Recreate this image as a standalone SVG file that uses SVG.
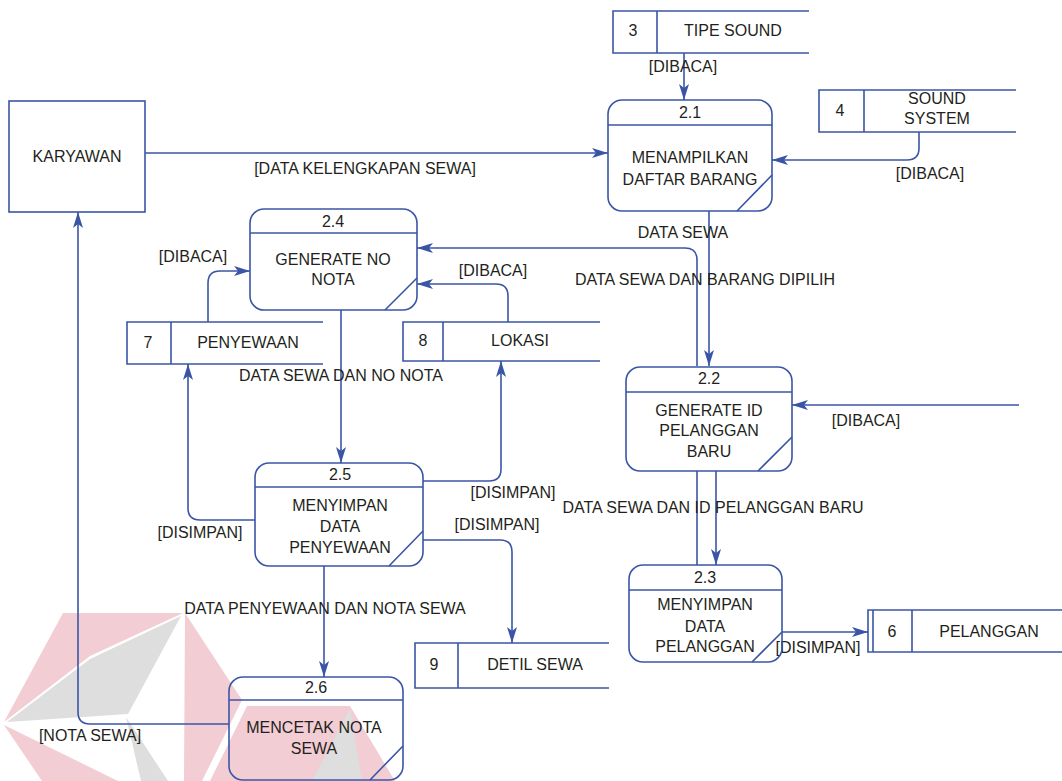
<svg xmlns="http://www.w3.org/2000/svg" width="1062" height="781" viewBox="0 0 1062 781">
<style>
.ln{fill:none;stroke:#3b55a6;stroke-width:1.6}
.bx{fill:#fff;stroke:#3b55a6;stroke-width:1.6}
.pr{fill:none;stroke:#3b55a6;stroke-width:1.6}
text{font-family:"Liberation Sans",Arial,sans-serif;font-size:16px;fill:#231f20;text-anchor:middle}
.wp{fill:#f2cdd3}
.wg{fill:#dedede}
</style>
<defs>
<marker id="ar" markerUnits="userSpaceOnUse" markerWidth="16" markerHeight="10" refX="16" refY="5" orient="auto">
<path d="M0,0 L16,5 L0,10 L4,5 z" fill="#3b55a6"/>
</marker>
</defs>
<rect width="1062" height="781" fill="#fff"/>
<g id="watermark">
<polygon class="wp" points="63,613 183,613 90,656 4,722"/>
<polygon class="wg" points="7,722 90,659 181,616 128,714"/>
<polygon class="wp" points="4,725 118,781 42,781"/>
<polygon class="wg" points="126,717 141,781 168,781"/>
<polygon class="wp" points="185,613 242,700 202,781 184,781"/>
<polygon class="wp" points="247,706 350,706 395,781 210,781"/>
<polygon class="wg" points="350,708 312,781 362,781"/>
</g>
<g id="connectors">
<path class="ln" d="M145,153 H608" marker-end="url(#ar)"/>
<path class="ln" d="M684,53 V100" marker-end="url(#ar)"/>
<path class="ln" d="M919,132 V148 Q919,160 907,160 H772" marker-end="url(#ar)"/>
<path class="ln" d="M709,211 V366" marker-end="url(#ar)"/>
<path class="ln" d="M697,366 V260 Q697,248 685,248 H417" marker-end="url(#ar)"/>
<path class="ln" d="M208,322 V283 Q208,271 220,271 H250" marker-end="url(#ar)"/>
<path class="ln" d="M508,322 V296 Q508,284 496,284 H417" marker-end="url(#ar)"/>
<path class="ln" d="M341,310 V463" marker-end="url(#ar)"/>
<path class="ln" d="M255,520 H200 Q188,520 188,508 V364" marker-end="url(#ar)"/>
<path class="ln" d="M423,481 H489 Q501,481 501,469 V361" marker-end="url(#ar)"/>
<path class="ln" d="M423,540 H500 Q512,540 512,552 V643" marker-end="url(#ar)"/>
<path class="ln" d="M324,566 V677" marker-end="url(#ar)"/>
<path class="ln" d="M229,724 H90 Q78,724 78,712 V212" marker-end="url(#ar)"/>
<path class="ln" d="M1019,405 H792" marker-end="url(#ar)"/>
<path class="ln" d="M716,471 V565" marker-end="url(#ar)"/>
<path class="ln" d="M697,565 V471"/>
<path class="ln" d="M782,632 H868" marker-end="url(#ar)"/>
<text x="365" y="174">[DATA KELENGKAPAN SEWA]</text>
<text x="683" y="72">[DIBACA]</text>
<text x="930" y="179">[DIBACA]</text>
<text x="683" y="238">DATA SEWA</text>
<text x="705" y="285">DATA SEWA DAN BARANG DIPILIH</text>
<text x="193" y="262">[DIBACA]</text>
<text x="493" y="276">[DIBACA]</text>
<text x="341" y="381">DATA SEWA DAN NO NOTA</text>
<text x="200" y="538">[DISIMPAN]</text>
<text x="513" y="498">[DISIMPAN]</text>
<text x="497" y="530">[DISIMPAN]</text>
<text x="325" y="614">DATA PENYEWAAN DAN NOTA SEWA</text>
<text x="90" y="741">[NOTA SEWA]</text>
<text x="866" y="426">[DIBACA]</text>
<text x="713" y="513">DATA SEWA DAN ID PELANGGAN BARU</text>
<text x="818" y="653">[DISIMPAN]</text>
</g>
<g id="karyawan">
<rect class="bx" x="9" y="101" width="136" height="111"/>
<text x="77" y="162">KARYAWAN</text>
</g>
<g id="p2_1">
<rect class="pr" x="608" y="100" width="164" height="111" rx="14"/>
<path class="ln" d="M608,125 H772 M772,175 L737,211"/>
<text x="690" y="118">2.1</text>
<text x="690" y="163">MENAMPILKAN</text>
<text x="690" y="185">DAFTAR BARANG</text>
</g>
<g id="p2_4">
<rect class="pr" x="250" y="209" width="167" height="101" rx="14"/>
<path class="ln" d="M250,233 H417 M417,278 L385,310"/>
<text x="333" y="227">2.4</text>
<text x="333" y="265">GENERATE NO</text>
<text x="333" y="285">NOTA</text>
</g>
<g id="p2_2">
<rect class="pr" x="626" y="367" width="166" height="104" rx="14"/>
<path class="ln" d="M626,392 H792 M792,437 L758,471"/>
<text x="709" y="384">2.2</text>
<text x="709" y="416">GENERATE ID</text>
<text x="709" y="436">PELANGGAN</text>
<text x="709" y="457">BARU</text>
</g>
<g id="p2_5">
<rect class="pr" x="255" y="463" width="168" height="103" rx="14"/>
<path class="ln" d="M255,487 H423 M423,531 L389,566"/>
<text x="340" y="480">2.5</text>
<text x="340" y="511">MENYIMPAN</text>
<text x="340" y="532">DATA</text>
<text x="340" y="553">PENYEWAAN</text>
</g>
<g id="p2_3">
<rect class="pr" x="629" y="565" width="153" height="97" rx="14"/>
<path class="ln" d="M629,590 H782 M782,632 L752,662"/>
<text x="705" y="583">2.3</text>
<text x="705" y="610">MENYIMPAN</text>
<text x="705" y="632">DATA</text>
<text x="705" y="652">PELANGGAN</text>
</g>
<g id="p2_6">
<rect class="pr" x="229" y="677" width="174" height="103" rx="14"/>
<path class="ln" d="M229,700 H403 M403,746 L370,780"/>
<text x="316" y="693">2.6</text>
<text x="314" y="733">MENCETAK NOTA</text>
<text x="314" y="754">SEWA</text>
</g>
<g id="s3">
<path class="ln" d="M809,11 H613 V53 H809 M657,11 V53"/>
<text x="633" y="36">3</text>
<text x="733" y="36">TIPE SOUND</text>
</g>
<g id="s4">
<path class="ln" d="M1016,90 H819 V132 H1016 M864,90 V132"/>
<text x="840" y="116">4</text>
<text x="937" y="104">SOUND</text>
<text x="937" y="124">SYSTEM</text>
</g>
<g id="s7">
<path class="ln" d="M323,322 H127 V364 H323 M171,322 V364"/>
<text x="148" y="348">7</text>
<text x="248" y="348">PENYEWAAN</text>
</g>
<g id="s8">
<path class="ln" d="M600,322 H403 V361 H600 M443,322 V361"/>
<text x="423" y="346">8</text>
<text x="520" y="346">LOKASI</text>
</g>
<g id="s9">
<path class="ln" d="M609,643 H415 V688 H609 M458,643 V688"/>
<text x="434" y="670">9</text>
<text x="535" y="670">DETIL SEWA</text>
</g>
<g id="s6">
<path class="ln" d="M1062,610 H868 V652 H1062 M873,610 V652 M912,610 V652"/>
<text x="892" y="637">6</text>
<text x="989" y="637">PELANGGAN</text>
</g>
</svg>
